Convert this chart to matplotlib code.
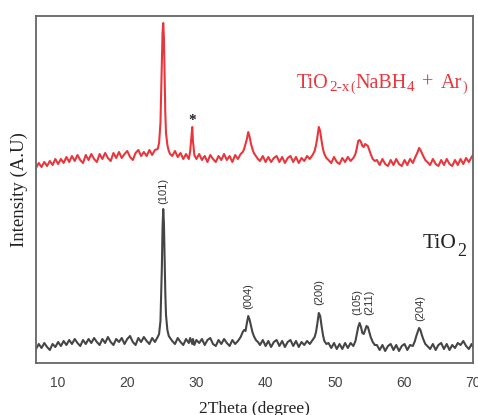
import matplotlib
matplotlib.use('Agg')
import matplotlib.pyplot as plt
from matplotlib.transforms import offset_copy

plt.rcParams['font.family'] = 'Liberation Serif'
plt.rcParams['mathtext.fontset'] = 'stix'

# 2theta (grados)
two_theta = [
    6.8, 7.2, 7.6, 8.0, 8.4, 8.8, 9.2, 9.6, 10.0, 10.4,
    10.8, 11.2, 11.6, 12.0, 12.4, 12.8, 13.2, 13.6, 14.0, 14.4,
    14.8, 15.2, 15.6, 16.0, 16.4, 16.8, 17.2, 17.6, 18.0, 18.4,
    18.8, 19.2, 19.6, 20.0, 20.4, 20.8, 21.2, 21.6, 22.0, 22.4,
    22.8, 23.2, 23.6, 24.0, 24.4, 24.6, 24.8, 25.0, 25.1, 25.2,
    25.3, 25.4, 25.5, 25.6, 25.8, 26.0, 26.2, 26.5, 26.9, 27.3,
    27.7, 28.1, 28.5, 28.9, 29.1, 29.3, 29.4, 29.5, 29.7, 30.0,
    30.4, 30.8, 31.2, 31.6, 32.0, 32.4, 32.8, 33.2, 33.6, 34.0,
    34.4, 34.8, 35.2, 35.6, 36.0, 36.4, 36.7, 36.9, 37.1, 37.3,
    37.5, 37.7, 37.9, 38.1, 38.3, 38.6, 38.9, 39.2, 39.6, 40.0,
    40.4, 40.8, 41.2, 41.6, 42.0, 42.4, 42.8, 43.2, 43.6, 44.0,
    44.4, 44.8, 45.2, 45.6, 46.0, 46.4, 46.8, 47.1, 47.3, 47.5,
    47.7, 47.9, 48.1, 48.3, 48.5, 48.8, 49.1, 49.5, 49.9, 50.3,
    50.7, 51.1, 51.5, 51.9, 52.3, 52.7, 53.0, 53.2, 53.4, 53.6,
    53.8, 54.0, 54.2, 54.4, 54.6, 54.8, 55.0, 55.2, 55.5, 55.8,
    56.1, 56.5, 56.9, 57.3, 57.7, 58.1, 58.5, 58.9, 59.3, 59.7,
    60.1, 60.5, 60.9, 61.3, 61.6, 61.8, 62.0, 62.2, 62.4, 62.6,
    62.8, 63.1, 63.4, 63.8, 64.2, 64.6, 65.0, 65.4, 65.8, 66.2,
    66.6, 67.0, 67.4, 67.8, 68.2, 68.6, 69.0, 69.4, 69.8, 70.0,
]

# intensidad TiO2 (curva gris, unidades arbitrarias)
tio2 = [
    14, 19, 15, 20, 16, 13, 19, 16, 21, 17,
    22, 18, 23, 19, 24, 20, 17, 23, 19, 24,
    20, 25, 21, 18, 24, 20, 26, 21, 18, 24,
    21, 25, 19, 24, 27, 21, 18, 25, 21, 26,
    22, 19, 25, 21, 26, 29, 42, 95, 135, 154,
    140, 105, 70, 48, 33, 27, 25, 22, 19, 25,
    21, 18, 24, 20, 25, 21, 19, 24, 18, 23,
    20, 24, 18, 23, 25, 19, 17, 23, 19, 24,
    20, 17, 23, 19, 22, 26, 31, 33, 32, 40,
    47, 43, 37, 31, 27, 23, 21, 18, 23, 17,
    22, 16, 21, 23, 17, 22, 16, 21, 23, 17,
    22, 16, 21, 18, 22, 19, 23, 26, 31, 40,
    50, 47, 37, 28, 22, 19, 20, 15, 20, 14,
    19, 14, 20, 15, 20, 17, 22, 29, 36, 40,
    36, 30, 29, 33, 37, 36, 31, 26, 21, 18,
    18, 13, 18, 12, 17, 19, 13, 18, 12, 17,
    19, 13, 18, 17, 22, 27, 31, 35, 33, 28,
    24, 19, 17, 14, 19, 13, 18, 20, 14, 19,
    13, 18, 15, 20, 18, 22, 17, 14, 19, 16,
]

# intensidad TiO2-x (NaBH4 + Ar), curva roja desplazada
tio2x = [
    195, 200, 196, 201, 197, 202, 198, 204, 199, 204,
    200, 206, 201, 207, 202, 208, 203, 200, 208, 203,
    209, 204, 201, 209, 204, 210, 205, 202, 210, 205,
    211, 205, 209, 212, 206, 203, 210, 213, 207, 211,
    207, 213, 208, 213, 214, 220, 240, 300, 330, 340,
    325, 285, 250, 230, 218, 212, 209, 207, 212, 206,
    210, 204, 209, 204, 212, 228, 236, 222, 208, 204,
    209, 203, 207, 201, 208, 204, 201, 207, 203, 209,
    203, 207, 201, 208, 204, 209, 211, 214, 219, 224,
    231, 226, 219, 214, 210, 207, 204, 202, 207, 201,
    206, 201, 205, 207, 201, 206, 200, 205, 207, 201,
    206, 200, 205, 202, 207, 204, 208, 212, 218, 226,
    236, 232, 222, 214, 209, 205, 203, 200, 206, 201,
    199, 205, 201, 206, 202, 205, 209, 215, 222, 223,
    221, 217, 216, 219, 218, 217, 213, 209, 204, 202,
    203, 198, 204, 199, 197, 203, 198, 204, 199, 197,
    203, 198, 204, 200, 205, 208, 211, 215, 213, 210,
    207, 203, 201, 198, 204, 199, 197, 203, 198, 204,
    199, 197, 203, 198, 204, 199, 205, 201, 206, 208,
]

# indices de Miller (anatasa) y donde se escriben
planos = ['(101)', '(004)', '(200)', '(105)', '(211)', '(204)']
planos_x = [25.2, 37.5, 47.7, 53.2, 55.0, 62.3]
planos_y = [172, 67, 71, 61, 61, 55]

fig = plt.figure(figsize=(4.78, 4.15), dpi=100)
ax = fig.add_axes([36 / 478, 52 / 415, 437 / 478, 347 / 415])

ax.plot(two_theta, tio2, color='#454545', lw=1.5)
ax.plot(two_theta, tio2x, color='#e8373c', lw=1.5)

for txt, px, py in zip(planos, planos_x, planos_y):
    ax.text(px, py, txt, rotation=90, ha='center', va='center',
            fontsize=8, color='#333333', family='Liberation Sans')

ax.text(29.4, 243, '*', ha='center', va='center', fontsize=11,
        fontweight='bold', color='#222222')

# etiquetas con subindices grandes, armadas por partes (texto, tamaño, bajada, espacio previo)
renderer = fig.canvas.get_renderer()


def etiqueta(x, y, partes, color):
    dx = 0
    for s, size, dy, gap in partes:
        dx += gap
        tr = offset_copy(ax.transData, fig=fig, x=dx, y=dy, units='dots')
        t = ax.text(x, y, s, fontsize=size, color=color, transform=tr,
                    va='baseline', ha='left')
        dx += t.get_window_extent(renderer).width


etiqueta(44.55, 275, [('TiO', 14.5, 0, 0), ('2-x', 11, -3, 0.5),
                      ('(', 10, -3, 0.5), ('NaBH', 14.5, 0, 0.5),
                      ('4', 11, -3, 0.5), ('+', 14.5, 0, 7),
                      ('Ar', 14.5, 0, 8), (')', 10, -3, 0.5)], '#e8373c')
etiqueta(62.77, 115, [('TiO', 15.5, 0, 0), ('2', 13, -8, 0.5)], '#222222')

ax.set_xlim(6.8, 70)
ax.set_ylim(0, 347)
ax.set_xticks([10, 20, 30, 40, 50, 60, 70])
ax.set_yticks([])
ax.tick_params(axis='x', length=0, pad=9, labelsize=10, labelcolor='#444444')
for lab in ax.get_xticklabels():
    lab.set_family('Liberation Sans')
for sp in ax.spines.values():
    sp.set_color('#666666')
    sp.set_linewidth(1.3)

ax.set_xlabel('2Theta (degree)', fontsize=12.5, color='#222222', labelpad=8)
ax.set_ylabel('Intensity (A.U)', fontsize=13.5, color='#222222', labelpad=6)

fig.savefig('out.png', dpi=100)
